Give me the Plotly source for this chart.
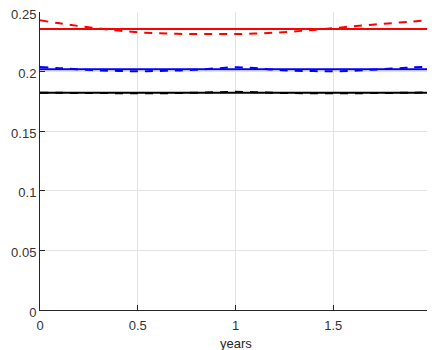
import plotly.graph_objects as go

x = [0, 0.1, 0.2, 0.3, 0.4, 0.5, 0.6, 0.7, 0.8, 0.9, 1.0,
     1.1, 1.2, 1.3, 1.4, 1.5, 1.6, 1.7, 1.8, 1.9, 2.0]

red_solid = [0.2357] * len(x)
red_dashed = [0.2430, 0.2405, 0.2382, 0.2362, 0.2344, 0.2330, 0.2322, 0.2317, 0.2315, 0.2315, 0.2315,
              0.2319, 0.2326, 0.2337, 0.2350, 0.2364, 0.2380, 0.2394, 0.2406, 0.2420, 0.2433]
blue_solid = [0.2019] * len(x)
blue_dashed = [0.2038, 0.2029, 0.2018, 0.2010, 0.2006, 0.2003, 0.2005, 0.2009, 0.2016, 0.2027, 0.2036,
               0.2030, 0.2016, 0.2007, 0.2004, 0.2003, 0.2006, 0.2016, 0.2025, 0.2035, 0.2042]
black_solid = [0.1823] * len(x)
black_dashed = [0.1823, 0.1822, 0.1821, 0.1820, 0.1819, 0.1819, 0.1819, 0.1820, 0.1823, 0.1827, 0.1830,
                0.1827, 0.1822, 0.1820, 0.1819, 0.1819, 0.1819, 0.1820, 0.1821, 0.1823, 0.1824]

xticks = [0, 0.5, 1, 1.5, 2]
xtick_text = ["0", "0.5", "1", "1.5", ""]
last_xtick = "2"
yticks = [0, 0.05, 0.1, 0.15, 0.2, 0.25]
ytick_text = ["0", "0.05", "0.1", "0.15", "0.2", "0.25"]
x_title = "years"

fig = go.Figure()
series = [
    (black_solid, "#000000", "solid"),
    (black_dashed, "#000000", "8px,7px"),
    (blue_solid, "#0000ff", "solid"),
    (blue_dashed, "#0000ff", "8px,7px"),
    (red_solid, "#ff0000", "solid"),
    (red_dashed, "#ff0000", "8px,7px"),
]
for ys, col, dash in series:
    fig.add_trace(go.Scatter(x=x, y=ys, mode="lines",
                             line=dict(color=col, width=2, dash=dash, shape="spline"),
                             showlegend=False, hoverinfo="skip"))

tick_font = dict(family="Liberation Sans, Arial", size=13, color="#333333")
axis_common = dict(showgrid=True, gridcolor="#e3e3e3", gridwidth=1,
                   showline=True, linecolor="#262626", linewidth=1,
                   ticks="inside", ticklen=5, tickcolor="#262626",
                   zeroline=False, automargin=False, ticklabeloverflow="allow",
                   tickfont=tick_font)

fig.update_layout(
    width=427, height=350,
    margin=dict(l=32, r=4, t=4, b=48),
    paper_bgcolor="white", plot_bgcolor="white",
    xaxis=dict(range=[0, 2], tickvals=xticks, ticktext=xtick_text, ticklabelstandoff=3,
               **axis_common),
    yaxis=dict(range=[0, 0.25], tickvals=yticks, ticktext=ytick_text, ticklabelshift=2,
               **axis_common),
    annotations=[
        dict(text=x_title, xref="paper", yref="paper", x=0.5, y=0,
             xanchor="center", yanchor="middle", yshift=-33, showarrow=False,
             font=dict(family="Liberation Sans, Arial", size=13, color="#262626")),
        dict(text=last_xtick, xref="x", yref="paper", x=xticks[-1], y=0,
             xanchor="center", yanchor="middle", yshift=-15, showarrow=False,
             font=tick_font),
    ],
)

fig.write_html("out.html")
